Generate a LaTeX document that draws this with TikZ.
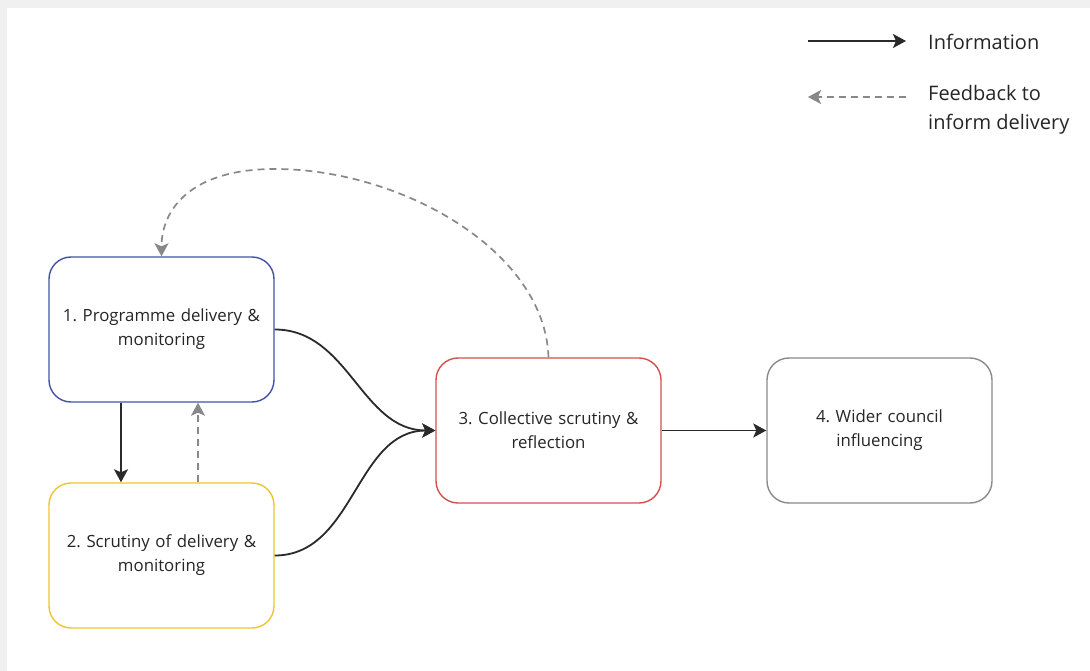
\documentclass[tikz,border=0pt]{standalone}
\usepackage{fontspec}
\setmainfont{Open Sans}
\frenchspacing
\usetikzlibrary{arrows.meta,calc}
\definecolor{bgray}{HTML}{F0F0F0}
\definecolor{cblue}{HTML}{4452A6}
\definecolor{cyellow}{HTML}{EFC52E}
\definecolor{cred}{HTML}{D2504A}
\definecolor{cgray}{HTML}{8A8A8A}
\definecolor{ctext}{HTML}{262626}
\definecolor{cline}{HTML}{2A2A2A}
\definecolor{cdash}{HTML}{888888}
\tikzset{
  box/.style={draw, line width=1.4pt, rounded corners=22pt, minimum width=225pt, minimum height=145pt,
    inner sep=0pt, align=center, text width=215pt, text=ctext, font=\fontsize{16.8}{24}\selectfont},
  tip/.style={-{Stealth[length=13pt,width=14pt,inset=3pt]}},
  info/.style={draw=cline, line width=1.8pt, tip},
  feedback/.style={draw=cdash, line width=1.7pt, dash pattern=on 7pt off 5pt, tip},
  legtext/.style={anchor=west, inner sep=0pt, text=ctext, align=left, font=\fontsize{20}{29}\selectfont}
}
\begin{document}
\begin{tikzpicture}[x=1pt,y=-1pt]
\useasboundingbox (0,0) rectangle (1090,671);
\fill[bgray] (0,0) rectangle (1090,671);
\fill[white] (7,8) rectangle (1090,671);

\node[box, draw=cblue]   (b1) at (161.5,329.5) {1. Programme delivery \&\\monitoring};
\node[box, draw=cyellow] (b2) at (161.5,555.5) {2. Scrutiny of delivery \&\\monitoring};
\node[box, draw=cred]    (b3) at (548.5,430.5) {3. Collective scrutiny \&\\reflection};
\node[box, draw=cgray]   (b4) at (879.5,430.5) {4. Wider council\\influencing};

% vertical links between 1 and 2
\draw[info] ($(b1.south)+(-40.5,0)$) -- ($(b2.north)+(-40.5,0)$);
\draw[feedback] ($(b2.north)+(36.5,0)$) -- ($(b1.south)+(36.5,0)$);

% curves into 3
\draw[info] (b1.east) to[out=0,in=180] (b3.west);
\draw[info] (b2.east) to[out=0,in=180] (b3.west);

% 3 -> 4
\draw[info] (b3.east) -- (b4.west);

% feedback arc 3 -> 1
\draw[feedback] (b3.north) .. controls (545,250) and (400,169) .. (275,169)
  .. controls (190,169) and (161.5,210) .. (b1.north);

% legend
\coordinate (l1a) at (808,41);
\coordinate (l1b) at (906,41);
\coordinate (l2a) at (808,97);
\coordinate (l2b) at (906,97);
\draw[info] (l1a) -- (l1b);
\draw[feedback] (l2b) -- (l2a);
\node[legtext] (t1) at (928,42) {Information};
\node[legtext] (t2) at (928,110) {Feedback to\\inform delivery};
\end{tikzpicture}
\end{document}
